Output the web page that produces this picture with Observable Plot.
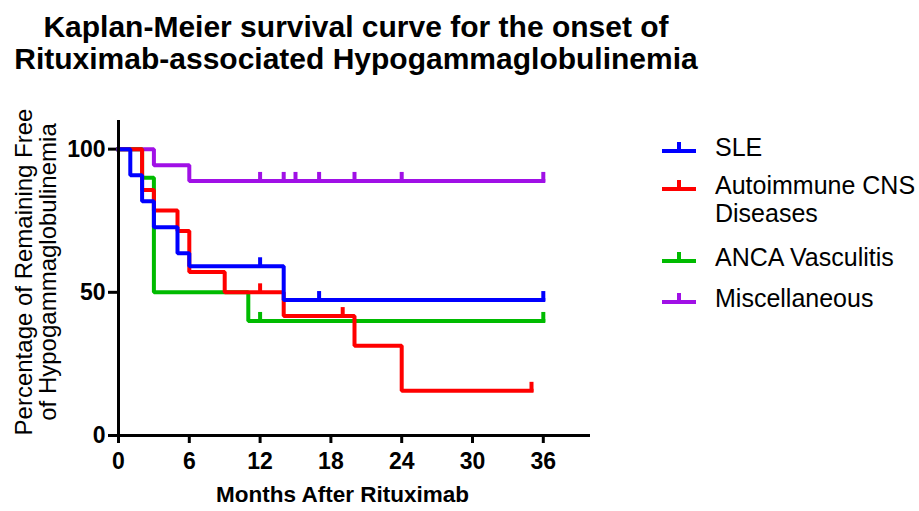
<!DOCTYPE html>
<html>
<head>
<meta charset="utf-8">
<script src="https://cdn.jsdelivr.net/npm/d3@7"></script>
<script src="https://cdn.jsdelivr.net/npm/@observablehq/plot@0.6"></script>
<style>
  html, body { margin: 0; padding: 0; background: #fff; }
  #wrap { position: relative; width: 919px; height: 511px; overflow: hidden; font-family: "Liberation Sans", Arial, sans-serif; }
  #title { position: absolute; left: 0; top: 11px; width: 712px; text-align: center; font-weight: bold; font-size: 30px; line-height: 32px; color: #000; }
  #chart { position: absolute; left: 0; top: 90px; }
  #legend { position: absolute; left: 660px; top: 133px; font-size: 25px; color: #000; }
  .item { position: relative; display: flex; align-items: flex-start; }
  .item svg { flex: none; margin-top: 5px; }
  .item .lab { margin-left: 17px; line-height: 28px; }
</style>
</head>
<body>
<div id="wrap">
  <div id="title">Kaplan-Meier survival curve for the onset of<br>Rituximab-associated Hypogammaglobulinemia</div>
  <div id="chart"></div>
  <div id="legend"></div>
</div>
<script>
// ---- data ----
const seriesNames = ["SLE", "Autoimmune CNS\nDiseases", "ANCA Vasculitis", "Miscellaneous"];
const seriesColors = ["#0000ff", "#ff0000", "#00bb00", "#a010e6"];

const sleTimes  = [0, 1, 2, 3, 5, 6, 14, 36];
const sleValues = [100, 90.9, 81.8, 72.7, 63.6, 59.1, 47.3, 47.3];
const sleCensored = [12, 17, 36];

const cnsTimes  = [0, 2, 3, 5, 6, 9, 14, 20, 24, 35];
const cnsValues = [100, 85.7, 78.6, 71.4, 57.1, 50, 41.7, 31.3, 15.6, 15.6];
const cnsCensored = [12, 19, 35];

const ancaTimes  = [0, 2, 3, 11, 36];
const ancaValues = [100, 90, 50, 40, 40];
const ancaCensored = [12, 36];

const miscTimes  = [0, 3, 6, 36];
const miscValues = [100, 94.4, 88.9, 88.9];
const miscCensored = [12, 14, 15, 17, 20, 24, 36];

const xTicks = [0, 6, 12, 18, 24, 30, 36];
const yTicks = [0, 50, 100];
const xTitle = "Months After Rituximab";
const yTitle = "Percentage of Remaining Free\nof Hypogammaglobulinemia";

// ---- build tables ----
const groups = [
  {name: seriesNames[0], color: seriesColors[0], t: sleTimes, v: sleValues, c: sleCensored},
  {name: seriesNames[1], color: seriesColors[1], t: cnsTimes, v: cnsValues, c: cnsCensored},
  {name: seriesNames[2], color: seriesColors[2], t: ancaTimes, v: ancaValues, c: ancaCensored},
  {name: seriesNames[3], color: seriesColors[3], t: miscTimes, v: miscValues, c: miscCensored}
];
function stepValue(g, time) {
  let val = g.v[0];
  for (let i = 0; i < g.t.length; i++) if (g.t[i] <= time) val = g.v[i];
  return val;
}
// draw order: purple, green, red, blue (blue on top)
const drawOrder = [3, 2, 1, 0];
const tickSymbol = {
  draw(ctx) { ctx.moveTo(0, 1); ctx.lineTo(0, -9); }
};

const marks = [];
for (const gi of drawOrder) {
  const g = groups[gi];
  const steps = g.t.map((t, i) => ({t, v: g.v[i]}));
  const cens = g.c.map(t => ({t, v: stepValue(g, t)}));
  marks.push(Plot.line(steps, {x: "t", y: "v", curve: "step-after", stroke: g.color, strokeWidth: 4, strokeLinejoin: "miter", strokeLinecap: "square"}));
  marks.push(Plot.dot(cens, {x: "t", y: "v", symbol: tickSymbol, stroke: g.color, strokeWidth: 4, fill: "none", r: 5}));
}

const plot = Plot.plot({
  width: 919,
  height: 421,
  marginLeft: 118,
  marginRight: 329,
  marginTop: 30,
  marginBottom: 76,
  style: {fontFamily: "'Liberation Sans', Arial, sans-serif", fontSize: "23px", fontWeight: "bold", color: "#000", background: "transparent"},
  x: {domain: [0, 40]},
  y: {domain: [0, 110]},
  marks: [
    Plot.axisX({ticks: xTicks, tickSize: 8, tickPadding: 9, strokeWidth: 3, label: null, fontSize: 23, fontWeight: "bold"}),
    Plot.axisY({ticks: yTicks, tickSize: 10, tickPadding: 3, strokeWidth: 3, label: null, fontSize: 23, fontWeight: "bold"}),
    ...marks,
    Plot.ruleY([0], {stroke: "#000", strokeWidth: 3}),
    Plot.ruleX([0], {stroke: "#000", strokeWidth: 3}),
    Plot.text([xTitle], {frameAnchor: "bottom", dy: 66, dx: -12, fontSize: 22.5, fontWeight: "bold", fill: "#000"}),
    Plot.text([yTitle], {frameAnchor: "left", textAnchor: "middle", rotate: -90, dx: -82, dy: -6, fontSize: 24, fontWeight: "normal", lineHeight: 1, fill: "#000"})
  ]
});
document.getElementById("chart").appendChild(plot);

// ---- legend ----
const legend = document.getElementById("legend");
const gaps = [0, 10, 16, 13];
groups.forEach((g, i) => {
  const item = document.createElement("div");
  item.className = "item";
  item.style.marginTop = gaps[i] + "px";
  item.innerHTML = `<svg width="38" height="20"><line x1="2" x2="36" y1="13" y2="13" stroke="${g.color}" stroke-width="4"/><line x1="19" x2="19" y1="13" y2="4" stroke="${g.color}" stroke-width="4"/></svg><div class="lab">${g.name.replace("\n", "<br>")}</div>`;
  legend.appendChild(item);
});
</script>
</body>
</html>
